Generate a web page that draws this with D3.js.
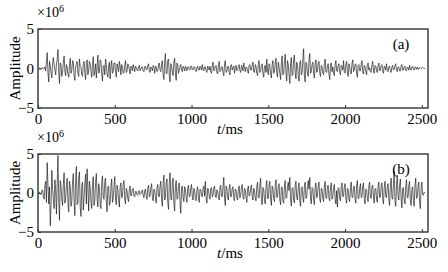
<!DOCTYPE html>
<html>
<head>
<meta charset="utf-8">
<script src="https://cdn.jsdelivr.net/npm/d3@7"></script>
<style>
  body { margin: 0; background: #fff; }
  text { font-family: "Liberation Serif", "Times New Roman", Times, serif; }
</style>
</head>
<body>
<div id="chart"></div>
<script>
// sample step of the traces, ms
const step = 5;
const xTicks = [0, 500, 1000, 1500, 2000, 2500];
const yTicks = [-5, 0, 5];
const panelLabels = ["(a)", "(b)"];

// amplitude x 1e6, one value every 5 ms, 100 ms per row
const ampA = [
  0, 0, 0.1, 0, -0.1, 0.1, 0.1, -0.1, 0, 0.2, -0.3, 0.8, 2.0, -0.6, -1.7, 0.9, 0.3, -0.5, -1.2, 0.6,
  1.4, 0.5, -0.2, -0.8, 0.6, 1.1, 2.4, -0.4, -1.9, 0.7, 0.4, -1.0, -0.5, 0.8, 1.6, -0.3, -0.9, 0.5, 0.2, -0.7,
  -1.1, 0.4, 1.3, -0.6, -0.3, 1.0, 0.8, -0.9, -1.5, 0.2, 0.5, 0.9, -0.6, -1.0, 1.2, 0.3, 0.2, -0.8, -1.0, 0.6,
  0.9, -0.5, -1.4, 0.7, 1.1, -0.8, -0.2, 0.9, 0.6, -0.4, -1.1, 0.5, 1.5, -0.9, -0.4, 0.6, -1.2, 0.3, 1.7, -0.6,
  -0.5, 1.1, 0.9, -0.7, -1.6, 0.3, 0.4, -0.8, 1.2, 0.5, -0.7, -1.1, 0.3, 0.8, -1.3, 0.2, 1.0, -0.6, -0.4, 0.7,
  0.7, -0.3, -1.1, 0.6, 0.2, -0.4, 0.9, 0.3, -0.8, 0.5, 0.3, -0.6, -0.5, 0.4, 1.0, -0.5, -0.3, 0.6, 0.4, -0.2,
  -0.7, 0.3, 0.2, -0.3, 0.5, 0.1, -0.4, 0.3, 0.1, -0.2, -0.3, 0.2, 0.4, -0.3, -0.1, 0.2, 0.2, -0.3, -0.4, 0.2,
  0.3, -0.1, -0.2, 0.4, 0.6, -0.3, -0.5, 0.2, 0.1, -0.3, 0.4, 0.2, -0.6, 0.3, 0.2, -0.4, -0.3, 0.5, 0.7, -0.2,
  -0.4, 0.6, 1.0, -0.8, -1.4, 0.9, 1.9, -0.7, -0.6, 1.0, 1.2, -0.9, -1.7, 0.6, 0.3, -0.5, -0.9, 0.8, 1.3, -0.6,
  -1.5, 0.7, 0.4, -0.6, -0.2, 0.3, 0.5, -0.2, -0.4, 0.3, 0.1, -0.3, 0.3, 0.1, -0.3, 0.2, 0.2, -0.1, -0.2, 0.3,
  0.3, -0.2, -0.1, 0.2, 0.2, -0.3, -0.4, 0.1, 0.3, -0.2, -0.2, 0.3, 0.1, -0.2, 0.5, -0.1, -0.3, 0.2, 0.2, -0.3,
  -0.5, 0.3, 0.1, -0.2, 0.3, -0.4, -0.6, 0.4, 0.8, -0.3, -0.2, 0.3, 0.4, -0.5, -0.7, 0.3, 0.9, -0.4, -0.3, 0.2,
  0.2, -0.5, -0.9, 0.6, 1.0, -0.5, -0.4, 0.2, 0.3, -0.5, -0.8, 0.4, 0.5, -0.2, 0.1, 0.3, -0.6, 0.2, 0.4, -0.3,
  -0.2, 0.3, 0.5, -0.3, -0.5, 0.4, 0.2, -0.3, 0.7, 0.1, -0.4, 0.2, 0.1, -0.3, -0.6, 0.4, 0.5, -0.2, -0.2, 0.4,
  0.8, -0.4, -0.5, 0.5, 0.3, -0.6, -0.9, 0.6, 1.0, -0.5, -0.3, 0.4, 0.6, -0.7, -1.1, 0.3, 0.4, -0.5, 1.2, -0.3,
  -0.8, 0.6, 0.3, -0.7, -1.2, 0.5, 1.0, -0.6, -0.4, 0.7, 1.3, -0.5, -1.1, 0.8, 0.2, -0.6, -1.4, 0.7, 1.6, -0.8,
  -0.6, 0.9, 1.8, -0.7, -1.6, 1.0, 0.5, -0.8, -1.9, 0.6, 1.4, -0.9, -0.7, 1.1, 1.7, -0.5, -1.3, 0.8, 0.4, -0.9,
  -1.6, 0.7, 1.0, -0.8, -0.5, 1.2, 2.5, -0.9, -1.7, 0.8, 0.6, -0.7, -1.0, 1.1, 1.9, -0.6, -0.4, 0.5, 0.8, -0.6,
  -1.2, 0.6, 1.1, -0.5, -0.3, 0.7, 0.9, -0.6, -1.0, 0.4, 0.2, -0.5, -0.8, 0.6, 1.2, -0.4, -0.5, 0.3, 0.6, -0.7,
  -1.4, 0.5, 0.7, -0.4, 0.2, -0.6, -0.9, 0.5, 1.0, -0.3, -0.4, 0.4, 0.6, -0.5, -0.8, 0.4, 0.3, -0.2, 1.0, -0.5,
  -0.6, 0.5, 0.9, -0.4, -1.0, 0.6, 0.3, -0.5, -0.7, 0.6, 1.1, -0.4, -0.2, 0.5, 0.6, -0.6, -1.1, 0.4, 0.5, -0.3,
  -0.3, 0.6, 1.0, -0.5, -0.7, 0.4, 0.2, -0.4, -0.8, 0.5, 0.7, -0.2, 0.1, -0.4, -0.5, 0.5, 0.9, -0.3, -0.6, 0.4,
  0.3, -0.3, -0.5, 0.4, 0.7, -0.3, -0.2, 0.4, 0.5, -0.4, -0.6, 0.3, 0.2, -0.2, 0.6, -0.3, -0.4, 0.2, 0.3, -0.3,
  -0.5, 0.2, 0.4, -0.2, -0.1, 0.4, 0.6, -0.3, -0.4, 0.2, 0.2, -0.3, -0.3, 0.3, 0.5, -0.2, -0.2, 0.2, 0.3, -0.2,
  -0.3, 0.2, 0.1, -0.2, 0.4, -0.1, -0.2, 0.2, 0.3, -0.1, -0.2, 0.2, 0.1, -0.1, 0.2, -0.1, -0.1, 0.1, 0.1, 0,
  0, 0.1, 0.1, 0, 0
];

const ampB = [
  0, 0.1, 0.1, -0.1, -0.2, 0.3, 0.4, -0.5, -0.8, 0.9, 1.5, -1.2, 3.9, 1.0, -1.4, 0.8, -4.2, -1.5, 2.9, 0.6,
  -0.8, -2.0, 1.7, 0.4, -2.7, 1.2, 4.8, -0.9, -3.5, 1.6, 0.9, -0.8, -1.6, 1.1, 2.6, -1.3, -0.7, 0.9, 1.9, -1.2,
  -2.4, 1.5, 0.8, -1.7, -1.1, 1.4, 2.5, -1.0, -2.9, 1.6, 3.4, -1.5, -1.2, 1.9, 2.7, -1.8, -3.0, 0.9, 1.4, -2.2,
  -0.6, 1.3, 2.4, -1.4, 3.1, 0.6, -2.3, 1.5, 0.7, -1.2, -2.0, 1.1, 2.1, -1.6, -0.9, 1.4, 2.5, -0.8, -1.8, 1.2,
  0.6, -1.4, -2.0, 1.3, 2.2, -0.6, -0.8, 1.5, 1.9, -1.1, -2.4, 0.8, 0.9, -1.6, -1.3, 0.7, 1.8, -1.2, -0.6, 0.9,
  2.1, -0.7, -1.5, 1.0, 0.5, -0.9, -1.8, 0.8, 1.3, -0.6, -0.4, 1.1, 1.6, -0.8, -1.4, 0.6, 0.3, -0.7, -1.1, 0.5,
  0.9, -0.4, -0.3, 0.5, 0.6, -0.4, -0.5, 0.2, 0.2, -0.2, -0.3, 0.2, 0.3, -0.2, -0.1, 0.2, 0.4, -0.3, -0.6, 0.3,
  0.5, -0.4, -0.8, 0.6, 1.0, -0.5, -0.3, 0.7, 1.2, -0.6, -1.0, 0.5, 0.4, -0.7, -1.3, 0.6, 1.1, -0.4, -0.5, 0.9,
  1.5, -0.8, -1.7, 1.2, 2.3, -0.9, -0.6, 1.3, 1.8, -1.2, -2.1, 1.1, 2.6, -0.7, -0.9, 1.4, 1.9, -1.3, -2.3, 0.9,
  1.6, -0.8, -0.7, 1.0, 1.3, -1.2, -2.6, 0.7, 0.9, -0.6, -1.1, 0.8, 0.5, -0.7, -1.2, 0.6, 1.0, -0.5, -0.4, 0.7,
  1.1, -0.5, -0.9, 0.6, 0.3, -0.7, -1.0, 0.4, 0.8, -0.6, -1.2, 0.5, 0.4, -0.3, -0.5, 0.6, 0.9, -0.4, 1.5, -0.6,
  -1.3, 0.6, 0.5, -0.4, -0.8, 0.5, 0.7, -0.5, -0.3, 0.6, 0.9, -0.4, -0.6, 0.4, 0.2, -0.5, -0.9, 0.6, 1.0, -0.4,
  -0.5, 0.8, 2.0, -0.7, -1.6, 0.9, 0.6, -0.6, -0.9, 0.7, 1.1, -0.5, -0.4, 0.6, 0.8, -0.7, -1.0, 0.5, 0.3, -0.6,
  -0.9, 0.5, 0.9, -0.6, -0.3, 0.7, 1.1, -0.5, -0.8, 0.6, 0.4, -0.6, -1.2, 0.5, 0.9, -0.4, -0.2, 0.6, 1.0, -0.5,
  -0.9, 0.6, 0.4, -0.7, -1.0, 0.8, 1.4, -0.6, -0.6, 1.0, 1.9, -0.8, -1.5, 0.7, 0.5, -0.9, -1.4, 0.8, 1.6, -0.7,
  -0.7, 1.0, 1.5, -0.8, -1.6, 0.9, 0.6, -0.7, -1.1, 1.0, 1.7, -0.6, -0.5, 0.8, 1.2, -0.9, -1.5, 0.7, 0.8, -1.0,
  -1.3, 0.9, 1.6, -0.7, -0.6, 0.8, 1.4, 0.3, 2.0, -0.8, -1.7, 0.6, 0.7, -0.9, -1.3, 1.0, 1.5, -0.6, -0.9, 0.7,
  1.3, -0.9, -1.7, 0.7, 0.8, -0.6, -1.2, 0.9, 1.4, -0.7, -0.5, 0.8, 1.6, 0.5, 2.0, -0.8, -1.4, 0.7, 0.6, -0.9,
  -1.5, 0.8, 1.3, -0.6, -0.4, 0.9, 1.4, -0.8, -1.2, 0.6, 0.5, -0.7, -1.1, 0.8, 1.5, -0.6, -0.7, 0.9, 1.0, -0.7,
  -1.0, 0.7, 1.3, -0.8, -0.5, 0.6, 1.1, -0.7, -1.4, 0.3, -1.8, 0.7, 0.6, -0.6, -1.0, 0.8, 1.3, -0.5, -0.4, 0.8,
  1.2, -0.7, -1.3, 0.6, 0.5, -0.8, -1.1, 0.7, 1.4, -0.5, -0.6, 0.7, 0.9, -0.8, -1.3, 0.9, 1.6, -0.7, -0.7, 0.6,
  1.2, -0.6, -0.5, 0.9, 1.3, -0.8, -1.4, 0.5, 0.4, -0.7, -1.1, 0.9, 1.4, -0.6, -0.7, 0.8, 1.0, -0.6, -1.3, 0.5,
  0.6, -0.8, -1.2, 0.9, 1.4, -0.6, -0.5, 0.8, 1.3, -0.7, -1.4, 0.8, 1.5, -0.5, -0.6, 0.9, 1.2, -0.8, -1.6, 0.9,
  1.9, -0.6, -0.8, 1.2, 2.8, -1.0, -1.7, 1.1, 2.3, -0.5, -0.9, 1.0, 1.8, -0.8, -1.9, 0.6, 0.7, -0.9, -1.4, 0.8,
  1.7, -0.6, -0.6, 1.0, 1.5, -0.9, -1.6, 0.5, 0.8, -1.0, -1.7, 0.9, 1.9, -0.7, -0.5, 0.8, 1.4, -1.1, -2.0, 0.6,
  1.4, -0.2, -0.3, 0.1, 0
];

const svg = d3.select("#chart").append("svg")
    .attr("width", 448)
    .attr("height", 272);

const x = d3.scaleLinear()
    .domain([0, 2540])
    .range([38, 428]);

const panels = [
  {amp: ampA, top: 29, bottom: 108, label: panelLabels[0]},
  {amp: ampB, top: 154, bottom: 232, label: panelLabels[1]}
];

panels.forEach(function (p) {
  const y = d3.scaleLinear()
      .domain([-5, 5])
      .range([p.bottom, p.top]);

  const line = d3.line()
      .x(function (d, i) { return x(i * step); })
      .y(function (d) { return y(d); });

  svg.append("path")
      .datum(p.amp)
      .attr("fill", "none")
      .attr("stroke", "#111")
      .attr("stroke-width", 0.65)
      .attr("d", line);

  // frame
  svg.append("rect")
      .attr("x", x.range()[0])
      .attr("y", p.top)
      .attr("width", x.range()[1] - x.range()[0])
      .attr("height", p.bottom - p.top)
      .attr("fill", "none")
      .attr("stroke", "#333")
      .attr("stroke-width", 1.4);

  const gx = svg.append("g")
      .attr("transform", "translate(0," + p.bottom + ")")
      .call(d3.axisBottom(x).tickValues(xTicks).tickSize(-3).tickPadding(5).tickFormat(d3.format("d")));
  gx.select(".domain").remove();
  gx.selectAll("line").attr("stroke", "#333");
  gx.selectAll("text")
      .attr("font-size", 15)
      .attr("fill", "#000");

  const gy = svg.append("g")
      .attr("transform", "translate(" + x.range()[0] + ",0)")
      .call(d3.axisLeft(y).tickValues(yTicks).tickSize(-3).tickPadding(4));
  gy.select(".domain").remove();
  gy.selectAll("line").attr("stroke", "#333");
  gy.selectAll("text")
      .attr("font-size", 15)
      .attr("fill", "#000");

  svg.append("text")
      .attr("transform", "translate(20," + ((p.top + p.bottom) / 2) + ") rotate(-90)")
      .attr("text-anchor", "middle")
      .attr("font-size", 15)
      .attr("fill", "#000")
      .text("Amplitude");

  const sci = svg.append("text")
      .attr("x", 37)
      .attr("y", p.top - 12)
      .attr("font-size", 14)
      .attr("fill", "#000");
  sci.append("tspan").text("×10");
  sci.append("tspan").attr("dy", -5).attr("font-size", 10).text("6");

  svg.append("text")
      .attr("x", 401)
      .attr("y", p.top + 20)
      .attr("text-anchor", "middle")
      .attr("font-size", 15)
      .attr("fill", "#000")
      .text(p.label);

  const xl = svg.append("text")
      .attr("x", 230)
      .attr("y", p.bottom + 26)
      .attr("text-anchor", "middle")
      .attr("font-size", 15)
      .attr("fill", "#000");
  xl.append("tspan").attr("font-style", "italic").text("t");
  xl.append("tspan").text("/ms");
});
</script>
</body>
</html>
